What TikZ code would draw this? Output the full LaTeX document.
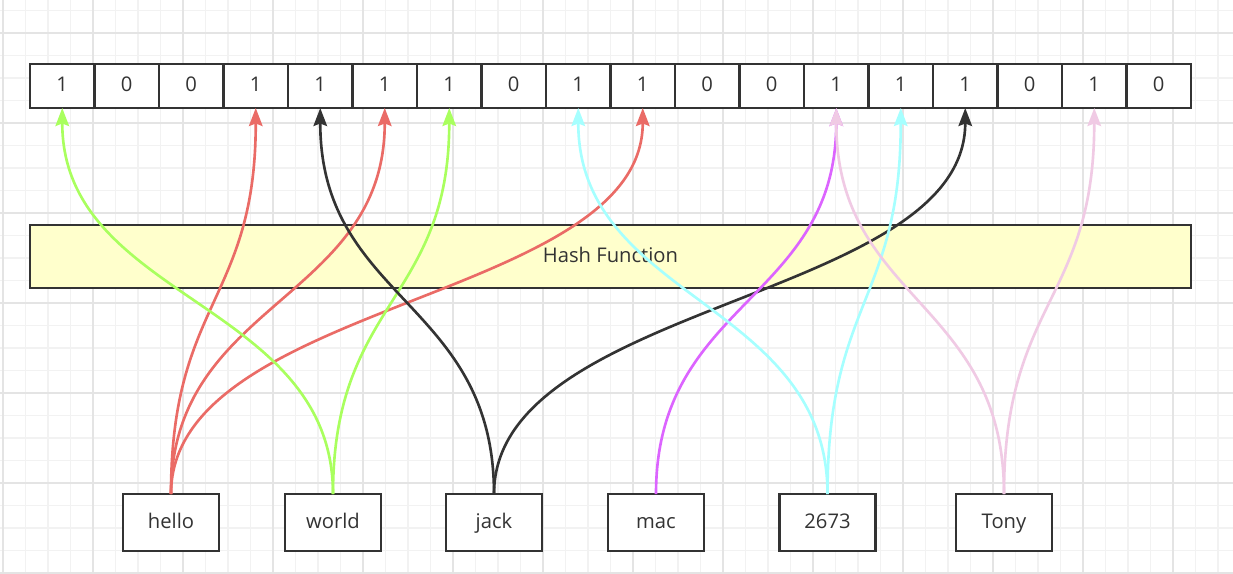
\documentclass[tikz,border=0pt]{standalone}
\usepackage{fontspec}
\setmainfont{Open Sans}
\usepackage{xcolor}
\usepackage{tikz}
\usetikzlibrary{arrows.meta}
\definecolor{inkgray}{HTML}{333333}
\definecolor{hashred}{HTML}{EA6B66}
\definecolor{hashgreen}{HTML}{A9FF5E}
\definecolor{hashcyan}{HTML}{A6FFFF}
\definecolor{hashviolet}{HTML}{DC64FF}
\definecolor{hashpink}{HTML}{F0CAE4}
\definecolor{hashyellow}{HTML}{FFFFCC}
\definecolor{minorgrid}{HTML}{F2F2F2}
\definecolor{majorgrid}{HTML}{E4E4E4}
\def\txt{\fontsize{11.5}{14}\selectfont\color{inkgray}}

\begin{document}
\begin{tikzpicture}[x=0.02cm,y=-0.02cm,
	bitcell/.style={draw=inkgray,line width=1.5pt,fill=white,outer sep=0pt,minimum width=1.29cm,minimum height=0.88cm,inner sep=0pt,text height=1.6ex,text depth=0.4ex,font=\txt},
	keybox/.style={draw=inkgray,line width=1.5pt,fill=white,outer sep=0pt,minimum width=1.92cm,minimum height=1.14cm,inner sep=0pt,text height=1.6ex,text depth=0.4ex,font=\txt},
	hashto/.style={line width=1.5pt,-{Stealth[length=0.36cm,width=0.27cm,inset=0.05cm]}}]
	\useasboundingbox (0,0) rectangle (1233,574);
	\fill[white] (0,0) rectangle (1233,574);
	% grid
	\foreach \i in {0,...,54} \draw[minorgrid,line width=0.6pt] ({3+22.5*\i},0)--({3+22.5*\i},574);
	\foreach \i in {0,...,25} \draw[minorgrid,line width=0.6pt] (0,{10.5+22.5*\i})--(1233,{10.5+22.5*\i});
	\foreach \i in {0,...,13} \draw[majorgrid,line width=0.8pt] ({3+90*\i},0)--({3+90*\i},574);
	\foreach \i in {0,...,6} \draw[majorgrid,line width=0.8pt] (0,{33+90*\i})--(1233,{33+90*\i});
	% bit array
	\foreach \b [count=\k from 0] in {1,0,0,1,1,1,1,0,1,1,0,0,1,1,1,0,1,0}
		\node[bitcell] (c\k) at ({62.25+64.5*\k},86) {\b};
	% hash function
	\node[draw=inkgray,line width=1.5pt,fill=hashyellow,outer sep=0pt,minimum width=23.22cm,minimum height=1.26cm,text height=1.6ex,text depth=0.4ex,font=\txt] (hash) at (610.5,256.5) {Hash Function};
	% keys
	\node[keybox] (hello) at (171,522.5) {hello};
	\node[keybox] (world) at (333,522.5) {world};
	\node[keybox] (jack) at (494,522.5) {jack};
	\node[keybox] (mac) at (656,522.5) {mac};
	\node[keybox] (k2673) at (827.5,522.5) {2673};
	\node[keybox] (tony) at (1004,522.5) {Tony};
	% hashes
	\draw[hashto,hashred] (hello.north) .. controls +(0,-193) and +(0,193) .. (c3.south);
	\draw[hashto,hashred] (hello.north) .. controls +(0,-193) and +(0,193) .. (c5.south);
	\draw[hashto,hashred] (hello.north) .. controls +(0,-193) and +(0,193) .. (c9.south);
	\draw[hashto,hashgreen] (world.north) .. controls +(0,-193) and +(0,193) .. (c0.south);
	\draw[hashto,hashgreen] (world.north) .. controls +(0,-193) and +(0,193) .. (c6.south);
	\draw[hashto,inkgray] (jack.north) .. controls +(0,-193) and +(0,193) .. (c4.south);
	\draw[hashto,inkgray] (jack.north) .. controls +(0,-193) and +(0,193) .. (c14.south);
	\draw[hashto,hashviolet] (mac.north) .. controls +(0,-193) and +(0,193) .. (c12.south);
	\draw[hashto,hashcyan] (k2673.north) .. controls +(0,-193) and +(0,193) .. (c8.south);
	\draw[hashto,hashcyan] (k2673.north) .. controls +(0,-193) and +(0,193) .. (c13.south);
	\draw[hashto,hashpink] (tony.north) .. controls +(0,-193) and +(0,193) .. (c12.south);
	\draw[hashto,hashpink] (tony.north) .. controls +(0,-193) and +(0,193) .. (c16.south);
\end{tikzpicture}
\end{document}
